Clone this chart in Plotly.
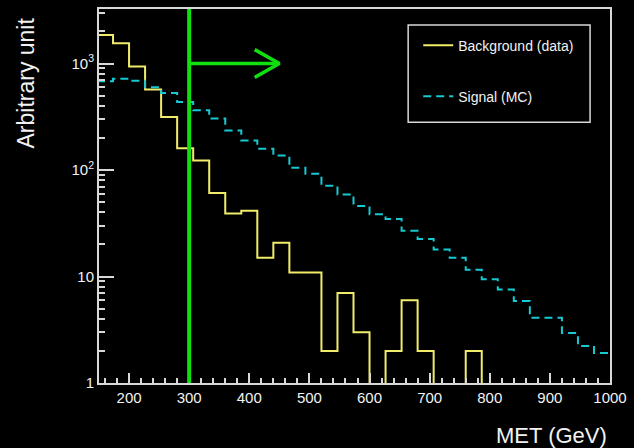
import numpy as np
import plotly.graph_objects as go

# Binning: 26.67 GeV wide bins, first visible bin starts at 146.67 GeV
BIN_LOW = 146.667
BIN_HIGH = 1000.0
N_BINS = 32
edges = np.linspace(BIN_LOW, BIN_HIGH, N_BINS + 1)

# Background (data) per bin
background = [1850, 1550, 940, 570, 315, 160, 123, 61, 39, 41.5,
              15, 20.7, 10.9, 10.9, 2, 7, 3, 0, 2, 6,
              2, 0, 0, 2, 0, 0, 0, 0, 0, 0,
              0, 0]

# Signal (MC) per bin
signal = [680, 720, 690, 600, 528, 435, 364, 304, 235, 189,
          158, 137, 105, 92, 71, 59, 46, 38.5, 34.6, 26.9,
          22.5, 17.9, 15.0, 11.6, 9.4, 7.56, 5.88, 4.11, 4.11, 2.95,
          2.23, 1.91]

# Selection cut and arrow
MET_CUT = 300
ARROW_END = 450
ARROW_LEVEL = 1000

Y_MAX_LOG = 3.512
DRAW_FLOOR = 0.5  # empty bins are drawn down below the axis floor

x_tickvals = [200, 300, 400, 500, 600, 700, 800, 900, 1000]
y_tickvals = [1, 10, 100, 1000]
y_ticktext = ["1", "10", "10<sup>2</sup>", "10<sup>3</sup>"]
y_minor = [m * 10 ** d for d in range(0, 4) for m in range(2, 10) if m * 10 ** d < 10 ** Y_MAX_LOG]

TEXT = "#f2f2f2"
AXIS = "#d8d8d8"
YELLOW = "#f0ec6a"
CYAN = "#16c9d2"
GREEN = "#10e010"
FONT = "Liberation Sans, Arial, sans-serif"


def step_y(vals):
    v = [max(x, DRAW_FLOOR) for x in vals]
    return v + [v[-1]]


fig = go.Figure()

fig.add_trace(go.Scatter(
    x=edges, y=step_y(background), mode="lines", line_shape="hv",
    line=dict(color=YELLOW, width=2), name="Background (data)",
    legendgroup="bkg",
))
fig.add_trace(go.Scatter(
    x=edges, y=step_y(signal), mode="lines", line_shape="hv",
    line=dict(color=CYAN, width=2, dash="8px,5px"), name="Signal (MC)",
    legendgroup="sig",
))

# Arrow pointing to the selected region
head_dx = 41
head_ratio = 1.35
fig.add_trace(go.Scatter(
    x=[MET_CUT, ARROW_END], y=[ARROW_LEVEL, ARROW_LEVEL], mode="lines",
    line=dict(color=GREEN, width=3.5), showlegend=False, hoverinfo="skip",
))
fig.add_trace(go.Scatter(
    x=[ARROW_END - head_dx, ARROW_END, ARROW_END - head_dx],
    y=[ARROW_LEVEL * head_ratio, ARROW_LEVEL, ARROW_LEVEL / head_ratio],
    mode="lines", line=dict(color=GREEN, width=3.5),
    showlegend=False, hoverinfo="skip",
))

# Cut line across the whole frame
fig.add_shape(type="line", xref="x", yref="paper", x0=MET_CUT, x1=MET_CUT,
              y0=0, y1=1, line=dict(color=GREEN, width=4))

# Legend frame
fig.add_shape(type="rect", xref="paper", yref="paper",
              x0=0.605, x1=0.961, y0=0.697, y1=0.957,
              line=dict(color=AXIS, width=1.5), fillcolor="rgba(0,0,0,0)")

fig.add_annotation(
    text="Arbitrary unit", xref="paper", yref="paper", x=0, y=1,
    xanchor="center", yanchor="top", xshift=-74, yshift=-7,
    textangle=-90, showarrow=False, font=dict(family=FONT, size=23, color=TEXT),
)
fig.add_annotation(
    text="MET (GeV)", xref="paper", yref="paper", x=1, y=0,
    xanchor="right", yanchor="middle", xshift=-1, yshift=-52,
    showarrow=False, font=dict(family=FONT, size=22, color=TEXT),
)

fig.update_layout(
    width=634, height=448,
    margin=dict(l=99, r=18, t=7, b=65),
    paper_bgcolor="black", plot_bgcolor="black",
    font=dict(family=FONT, color=TEXT),
    showlegend=True,
    legend=dict(
        x=0.6247, y=0.945, xanchor="left", yanchor="top",
        bgcolor="rgba(0,0,0,0)", borderwidth=0,
        font=dict(family=FONT, size=14, color=TEXT),
        tracegroupgap=30,
    ),
    xaxis=dict(
        range=[150, 1000], showgrid=False, zeroline=False,
        showline=True, linecolor=AXIS, linewidth=2, mirror=True,
        tickvals=x_tickvals, ticks="inside", ticklen=10, tickwidth=1.5,
        tickcolor=AXIS, tickfont=dict(family=FONT, size=15, color=TEXT),
        minor=dict(dtick=20, tick0=0, ticks="inside", ticklen=5,
                   tickwidth=1.5, tickcolor=AXIS, showgrid=False),
    ),
    yaxis=dict(
        type="log", range=[0, Y_MAX_LOG], showgrid=False, zeroline=False,
        showline=True, linecolor=AXIS, linewidth=2, mirror=True,
        tickvals=y_tickvals, ticktext=y_ticktext, ticks="inside",
        ticklen=15, tickwidth=1.5, tickcolor=AXIS,
        tickfont=dict(family=FONT, size=15, color=TEXT),
        minor=dict(tickvals=y_minor, ticks="inside", ticklen=6,
                   tickwidth=1.5, tickcolor=AXIS, showgrid=False),
    ),
)

fig.write_html("out.html")
